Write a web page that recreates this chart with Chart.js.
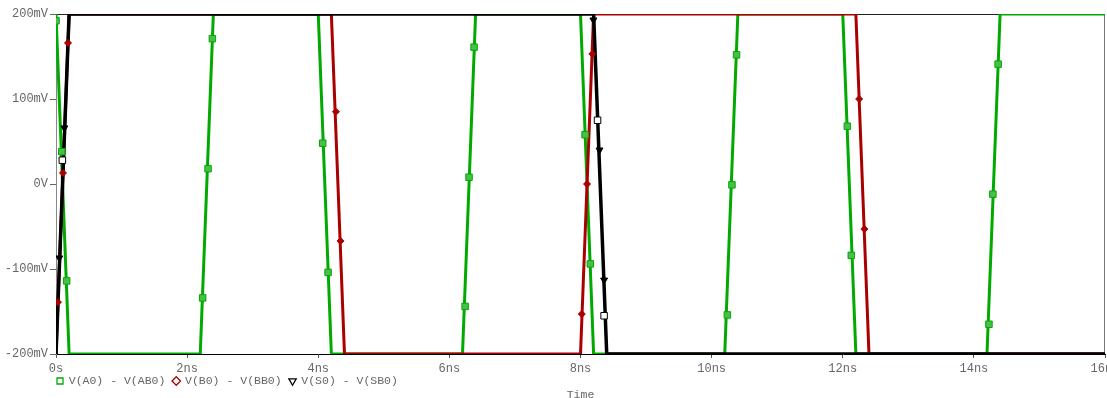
<!DOCTYPE html>
<html>
<head>
<meta charset="utf-8">
<script src="https://cdn.jsdelivr.net/npm/chart.js@4"></script>
<style>
  html, body { margin: 0; padding: 0; background: #fff; }
  #wrap { width: 1107px; height: 398px; }
</style>
</head>
<body>
<div id="wrap"><canvas id="wave"></canvas></div>
<script>
// time in ns, voltage in mV
var seriesNames = ["V(A0) - V(AB0)", "V(B0) - V(BB0)", "V(S0) - V(SB0)"];
var seriesColors = ["#00aa00", "#aa0000", "#000000"];

// trace corners
var aTime = [0, 0.2, 2.2, 2.4, 4.0, 4.2, 6.2, 6.4, 8.0, 8.2, 10.2, 10.4, 12.0, 12.2, 14.2, 14.4, 16];
var aVolt = [200, -200, -200, 200, 200, -200, -200, 200, 200, -200, -200, 200, 200, -200, -200, 200, 200];
var bTime = [0, 0.2, 4.2, 4.4, 8.0, 8.2, 12.2, 12.4, 16];
var bVolt = [-200, 200, 200, -200, -200, 200, 200, -200, -200];
var sTime = [0, 0.2, 8.2, 8.4, 16];
var sVolt = [-200, 200, 200, -200, -200];

// marker positions
var aMarkT = [0.0, 0.087, 0.163, 2.237, 2.319, 2.385, 4.068, 4.15, 6.24, 6.30, 6.377, 8.07, 8.15, 10.24, 10.31, 10.38, 12.07, 12.13, 14.23, 14.29, 14.37];
var aMarkV = [192, 38, -114, -134, 18, 171, 48, -104, -144, 8, 161, 58, -94, -154, -1, 152, 68, -84, -165, -12, 141];
var bMarkT = [0.03, 0.107, 0.183, 4.27, 4.34, 8.02, 8.10, 8.18, 12.25, 12.33];
var bMarkV = [-139, 13, 166, 85, -67, -153, 0, 153, 100, -53];
var sMarkT = [0.05, 0.127, 8.197, 8.29, 8.36];
var sMarkV = [-87, 66, 193, 40, -113];
var sBoxT = [0.097, 8.26, 8.36];
var sBoxV = [28, 75, -155];

var xTickValues = [0, 2, 4, 6, 8, 10, 12, 14, 16];
var xTickLabels = ["0s", "2ns", "4ns", "6ns", "8ns", "10ns", "12ns", "14ns", "16ns"];
var yTickValues = [-200, -100, 0, 100, 200];
var yTickLabels = ["-200mV", "-100mV", "0V", "100mV", "200mV"];

function pts(t, v) {
  return t.map(function (x, i) { return { x: x, y: v[i] }; });
}

var monoFamily = "'Liberation Mono', 'DejaVu Sans Mono', monospace";
var tickFont = { family: monoFamily, size: 12 };
var legendStyles = ["rect", "rectRot", "triangle"];

function trace(i, t, v, order) {
  return {
    label: seriesNames[i],
    data: pts(t, v),
    borderColor: seriesColors[i],
    borderWidth: i == 2 ? 3.5 : 3,
    pointRadius: 0,
    tension: 0,
    order: order
  };
}

function marks(t, v, style, fill, stroke, r, rot) {
  return {
    label: "",
    data: pts(t, v),
    showLine: false,
    pointStyle: style,
    pointRadius: r,
    pointRotation: rot,
    pointBackgroundColor: fill,
    pointBorderColor: stroke,
    pointBorderWidth: 1,
    order: 0
  };
}

// top + right edge of the plot box
var frame = {
  id: "frame",
  beforeDatasetsDraw: function (chart) {
    var a = chart.chartArea, ctx = chart.ctx;
    ctx.save();
    ctx.lineWidth = 1;
    ctx.strokeStyle = "#222";
    ctx.beginPath();
    ctx.moveTo(a.left, a.top + 0.5);
    ctx.lineTo(a.right, a.top + 0.5);
    ctx.stroke();
    ctx.strokeStyle = "#777";
    ctx.beginPath();
    ctx.moveTo(a.right - 0.5, a.top);
    ctx.lineTo(a.right - 0.5, a.bottom);
    ctx.stroke();
    ctx.restore();
  }
};

new Chart("wave", {
  type: "line",
  data: {
    datasets: [
      trace(0, aTime, aVolt, 3),
      trace(1, bTime, bVolt, 2),
      trace(2, sTime, sVolt, 1),
      marks(aMarkT, aMarkV, "rect", "#4bbd4b", "#00aa00", 4.6, 0),
      marks(bMarkT, bMarkV, "rectRot", "#aa0000", "#aa0000", 3.5, 0),
      marks(sMarkT, sMarkV, "triangle", "#000", "#000", 4, 180),
      marks(sBoxT, sBoxV, "rect", "#fff", "#000", 4.6, 0)
    ]
  },
  plugins: [frame],
  options: {
    responsive: true,
    maintainAspectRatio: false,
    animation: false,
    layout: { autoPadding: false, padding: { left: 0, right: 2, top: 14, bottom: 0 } },
    scales: {
      x: {
        type: "linear",
        min: 0,
        max: 16,
        afterBuildTicks: function (s) { s.ticks = xTickValues.map(function (v) { return { value: v }; }); },
        afterFit: function (s) { s.height = 20.25; s.paddingLeft = 0; s.paddingRight = 0; },
        ticks: {
          font: tickFont,
          color: "#666",
          padding: 4,
          maxRotation: 0,
          callback: function (v, i) { return xTickLabels[i]; }
        },
        grid: { drawOnChartArea: false, tickLength: 4, color: "#555" },
        border: { color: "#000", width: 1 }
      },
      y: {
        min: -200,
        max: 200,
        afterBuildTicks: function (s) { s.ticks = yTickValues.map(function (v) { return { value: v }; }); },
        afterFit: function (s) { s.width = 56; },
        ticks: {
          font: tickFont,
          color: "#666",
          padding: 2,
          callback: function (v, i) { return yTickLabels[i]; }
        },
        grid: { drawOnChartArea: false, tickLength: 6, color: "#666" },
        border: { color: "#888", width: 1 }
      }
    },
    plugins: {
      tooltip: { enabled: false },
      legend: {
        position: "bottom",
        align: "start",
        fullSize: false,
        maxHeight: 16.75,
        labels: {
          usePointStyle: true,
          boxWidth: 6,
          boxHeight: 6,
          padding: 1,
          color: "#666",
          font: { family: monoFamily, size: 11.5 },
          generateLabels: function () {
            return seriesNames.map(function (name, i) {
              return {
                text: name + " ",
                fillStyle: "#fff",
                strokeStyle: seriesColors[i],
                lineWidth: 1.3,
                pointStyle: legendStyles[i],
                rotation: i == 2 ? 180 : 0,
                fontColor: "#666",
                datasetIndex: i
              };
            });
          }
        }
      },
      title: {
        display: true,
        text: "Time",
        position: "bottom",
        fullSize: false,
        color: "#666",
        padding: 0,
        font: { family: monoFamily, size: 11.5, weight: "normal", lineHeight: "7px" }
      }
    }
  }
});
</script>
</body>
</html>
